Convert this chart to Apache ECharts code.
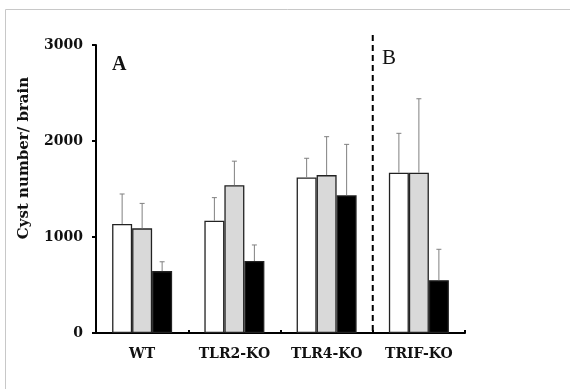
<!DOCTYPE html>
<html>
<head>
<meta charset="utf-8">
<script src="https://cdn.jsdelivr.net/npm/echarts@6/dist/echarts.min.js"></script>
<style>html,body{margin:0;padding:0;background:#fff;}#c{width:570px;height:389px;}</style>
</head>
<body>
<div id="c"></div>
<script>
const categories = ['WT', 'TLR2-KO', 'TLR4-KO', 'TRIF-KO'];
const whiteVals = [1135, 1170, 1620, 1670];
const grayVals = [1090, 1540, 1645, 1670];
const blackVals = [645, 750, 1435, 550];
const whiteErr = [313, 240, 200, 410];
const grayErr = [260, 250, 400, 770];
const blackErr = [97, 167, 530, 322];
const yTicks = [0, 1000, 2000, 3000];

const serif = '"Liberation Serif","Times New Roman",serif';
const wideSerif = '"DejaVu Serif","Liberation Serif",serif';
const chart = echarts.init(document.getElementById('c'));

const BW = 20;
function errSeries(vals, errs, offset) {
  return {
    type: 'custom',
    z: 5,
    silent: true,
    data: vals.map((v, i) => [i, v, errs[i]]),
    renderItem: function (params, api) {
      const i = api.value(0);
      const p0 = api.coord([i, api.value(1)]);
      const p1 = api.coord([i, api.value(1) + api.value(2)]);
      const x = p0[0] + offset * BW;
      const st = { stroke: '#808080', lineWidth: 1 };
      return {
        type: 'group',
        children: [
          { type: 'line', shape: { x1: x, y1: p0[1], x2: x, y2: p1[1] }, style: st },
          { type: 'line', shape: { x1: x - 2.5, y1: p1[1], x2: x + 2.5, y2: p1[1] }, style: st }
        ]
      };
    }
  };
}

function barSeries(vals, fill) {
  return {
    type: 'bar',
    data: vals,
    barWidth: BW,
    barGap: '0%',
    itemStyle: { color: fill, borderColor: '#222', borderWidth: 1.3 },
    z: 3
  };
}

chart.setOption({
  animation: false,
  backgroundColor: '#fff',
  grid: { left: 96, right: 105, top: 45, bottom: 56 },
  xAxis: {
    type: 'category',
    data: categories,
    axisLine: { lineStyle: { color: '#000', width: 2 } },
    axisTick: { show: true, inside: true, length: 3, lineStyle: { color: '#000', width: 2 } },
    axisLabel: { interval: 0, hideOverlap: false, color: '#111', fontFamily: wideSerif, fontWeight: 'bold', fontSize: 14, margin: 14 }
  },
  yAxis: {
    type: 'value',
    min: 0, max: 3000, interval: 1000,
    splitLine: { show: false },
    axisLine: { show: true, lineStyle: { color: '#000', width: 2 } },
    axisTick: { show: true, length: 4, lineStyle: { color: '#000', width: 2 } },
    axisLabel: {
      color: '#111', fontFamily: wideSerif, fontWeight: 'bold', fontSize: 14, margin: 13,
      formatter: v => (yTicks.indexOf(v) >= 0 ? String(v) : '')
    }
  },
  series: [
    barSeries(whiteVals, '#ffffff'),
    barSeries(grayVals, '#d9d9d9'),
    barSeries(blackVals, '#000000'),
    errSeries(whiteVals, whiteErr, -1),
    errSeries(grayVals, grayErr, 0),
    errSeries(blackVals, blackErr, 1)
  ]
});

const xa = chart.convertToPixel({ xAxisIndex: 0 }, categories[2]);
const xb = chart.convertToPixel({ xAxisIndex: 0 }, categories[3]);
const xSep = (xa + xb) / 2;
const yBottom = chart.convertToPixel({ yAxisIndex: 0 }, 0);

chart.setOption({
  graphic: [
    { type: 'line', shape: { x1: 5.5, y1: 9.5, x2: 570, y2: 9.5 }, style: { stroke: '#c8c8c8', lineWidth: 1 } },
    { type: 'line', shape: { x1: 5.5, y1: 9.5, x2: 5.5, y2: 389 }, style: { stroke: '#c8c8c8', lineWidth: 1 } },
    { type: 'line', z: 10, shape: { x1: xSep, y1: 35, x2: xSep, y2: yBottom }, style: { stroke: '#000', lineWidth: 2, lineDash: [6, 4] } },
    { type: 'text', left: 112, top: 55, style: { text: 'A', font: 'bold 20px ' + serif, fill: '#111' } },
    { type: 'text', left: 382, top: 48, style: { text: 'B', font: '21px ' + serif, fill: '#111' } },
    { type: 'text', x: 24, y: 158, rotation: Math.PI / 2,
      style: { text: 'Cyst number/ brain', font: 'bold 15px ' + wideSerif, fill: '#111', textAlign: 'center', textVerticalAlign: 'middle' } }
  ]
});
</script>
</body>
</html>
